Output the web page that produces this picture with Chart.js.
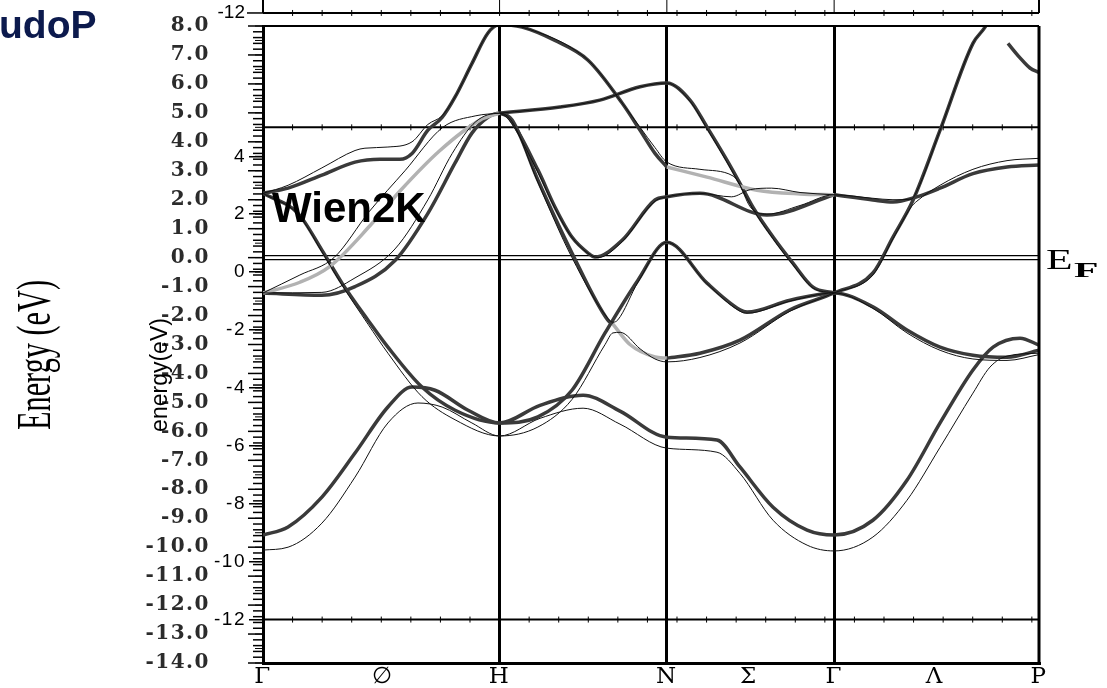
<!DOCTYPE html>
<html>
<head>
<meta charset="utf-8">
<script src="https://cdn.jsdelivr.net/npm/chart.js@4/dist/chart.umd.min.js"></script>
<style>
  html, body { margin: 0; padding: 0; background: #fff; }
</style>
</head>
<body>
<canvas id="bandChart" width="1107" height="688"></canvas>
<script>
// k path of the bcc zone, in units of 2pi/a
const kPoints = [0, 1, 1.7071, 2.4142, 3.2802];
const kTickPos = [0, 0.507, 1, 1.7071, 2.054, 2.4142, 2.84, 3.2802];
const kTickNames = ['Γ', '∅', 'H', 'N', 'Σ', 'Γ', 'Λ', 'P'];

// outer (thick) plot axis and the pasted inner (thin) plot axis
const outerRange = [-14, 8];
const innerRange = [-13.5, 8.5];     // inner energy = outer energy + 0.5
const innerTicks = [4, 2, 0, -2, -4, -6, -8, -10, -12];
const innerFrame = [5, -12];
const innerCopyLine = 8.95;          // bottom line of the next copy, labelled -12

// thick bands (outer plot), [k, E]
const thickLowBand = [[0,-9.58],[0.106,-9.3],[0.249,-8.27],[0.389,-6.75],[0.528,-5.16],[0.630,-4.47],[0.727,-4.58],[0.867,-5.27],[1,-5.71],[1.171,-5.1],[1.353,-4.75],[1.509,-5.3],[1.707,-6.2],[1.919,-6.3],[2.016,-7.23],[2.156,-8.62],[2.300,-9.41],[2.414,-9.58],[2.578,-9.07],[2.722,-7.69],[2.862,-5.71],[3.001,-3.88],[3.086,-3.09],[3.200,-2.78],[3.280,-3.02]];
const thickBandB = [[0,2.22],[0.148,1.53],[0.249,0.26],[0.334,-0.88],[0.444,-2.16],[0.528,-3.09],[0.672,-4.47],[0.812,-5.27],[1,-5.71],[1.162,-5.5],[1.306,-4.58],[1.446,-2.6],[1.585,-0.78],[1.707,0.53],[1.877,-0.88],[2.016,-1.8],[2.046,-1.88],[2.228,-1.47],[2.414,-1.22],[2.578,-1.7],[2.722,-2.5],[2.862,-3.09],[3.001,-3.37],[3.145,-3.44],[3.280,-3.2]];
const thickBandD = [[0,-1.22],[0.249,-1.3],[0.389,-1.0],[0.558,-0.1],[0.697,1.53],[0.812,3.27],[0.883,4.3],[0.951,4.85],[1,4.99],[1.053,4.75],[1.162,2.68],[1.306,0.16],[1.458,-2.16],[1.479,-2.3]];
const thickBandD2 = [[1.707,-3.47],[1.847,-3.3],[2.016,-2.85],[2.228,-1.8],[2.414,-1.22],[2.578,-0.53],[2.663,0.71],[2.748,1.99],[2.862,4.4],[3.001,7.4],[3.052,7.96],[3.08,8.4]];
const thickBandE = [[1,4.99],[1.255,5.2],[1.424,5.44],[1.594,5.9],[1.707,6.03],[1.805,5.44],[1.877,4.51],[1.961,3.37],[2.016,2.57],[2.071,1.74],[2.156,0.71],[2.240,-0.19],[2.325,-1.02],[2.414,-1.22]];
const thickBandA = [[0,2.22],[0.106,2.4],[0.249,2.85],[0.389,3.3],[0.495,3.4],[0.579,3.4],[0.630,3.6],[0.697,4.4],[0.757,4.84],[0.812,5.55],[0.883,6.7],[0.951,7.76],[1,8.05],[1.095,7.96],[1.234,7.5],[1.374,6.82],[1.518,5.34],[1.594,4.4],[1.657,3.6],[1.707,3.13]];
const thickBandA2 = [[2.414,2.17],[2.578,1.99],[2.663,1.92],[2.764,2.1],[2.862,2.4],[3.001,2.9],[3.145,3.13],[3.280,3.2]];
const thickBandF = [[1,4.99],[1.036,4.86],[1.162,3.03],[1.234,1.75],[1.306,0.71],[1.374,0.16],[1.403,0.02],[1.518,0.6],[1.657,1.99],[1.707,2.1],[1.847,2.22],[2.130,1.47],[2.414,2.17]];
const thickBandTop = [[3.149,7.4],[3.2,6.9],[3.242,6.55],[3.280,6.4]];

// light grey pieces of the outer plot
const grayBandC = [[0,-1.22],[0.156,-0.85],[0.283,-0.3],[0.452,1.1],[0.579,2.3],[0.748,3.7],[0.917,4.75],[1,4.99]];
const grayBandD = [[1.479,-2.3],[1.551,-3.0],[1.657,-3.43],[1.707,-3.47]];
const grayBandA = [[1.707,3.13],[1.877,2.78],[2.088,2.33],[2.270,2.2],[2.414,2.17]];

// thin bands (inner plot), same energy units
const thinLowBand = [[0,-10.1],[0.106,-10.0],[0.249,-9.17],[0.389,-7.58],[0.528,-5.71],[0.655,-5.02],[0.757,-5.16],[0.883,-5.71],[1,-6.16],[1.171,-5.55],[1.353,-5.2],[1.509,-5.75],[1.707,-6.58],[1.919,-6.72],[2.016,-7.45],[2.156,-9.07],[2.300,-9.93],[2.414,-10.13],[2.578,-9.65],[2.722,-8.38],[2.862,-6.55],[3.001,-4.68],[3.073,-3.78],[3.145,-3.4],[3.280,-3.3]];
const thinBandB = [[0,2.22],[0.148,1.5],[0.249,0.2],[0.334,-0.95],[0.444,-2.3],[0.528,-3.3],[0.672,-4.8],[0.812,-5.6],[1,-6.16],[1.162,-5.85],[1.306,-4.9],[1.446,-3.0],[1.479,-2.6],[1.51,-2.58],[1.594,-3.15],[1.657,-3.5],[1.707,-3.6],[1.847,-3.45],[2.016,-2.95],[2.228,-1.85],[2.414,-1.22],[2.578,-0.6],[2.663,0.65],[2.74,1.75],[2.764,1.95],[2.862,2.5],[3.001,3.05],[3.145,3.35],[3.280,3.43]];
const thinBandD = [[0,-1.22],[0.249,-1.2],[0.389,-0.7],[0.558,0.3],[0.697,2.0],[0.8,3.6],[0.9,4.7],[1,4.99],[1.053,4.7],[1.162,2.6],[1.306,0.0],[1.458,-2.1],[1.479,-2.23],[1.50,-2.15],[1.585,-0.85],[1.707,0.53],[1.877,-0.9],[2.016,-1.85],[2.046,-1.92],[2.228,-1.5],[2.414,-1.22],[2.578,-1.75],[2.722,-2.6],[2.862,-3.2],[3.001,-3.5],[3.145,-3.55],[3.280,-3.35]];
const thinBandC = [[0,-1.22],[0.156,-0.6],[0.3,0.0],[0.45,1.6],[0.6,3.0],[0.76,4.5],[0.9,4.9],[1,4.99],[1.255,5.2],[1.424,5.44],[1.594,5.9],[1.707,6.03],[1.805,5.4],[1.877,4.45],[1.961,3.3],[2.016,2.5],[2.071,1.68],[2.156,0.65],[2.240,-0.25],[2.325,-1.05],[2.414,-1.22]];
const thinBandA = [[0,2.22],[0.106,2.5],[0.249,3.1],[0.389,3.7],[0.431,3.78],[0.528,3.82],[0.630,4.0],[0.697,4.6],[0.757,4.9],[0.812,5.55],[0.883,6.7],[0.951,7.76],[1,8.05],[1.095,7.96],[1.374,6.82],[1.518,5.34],[1.594,4.5],[1.657,3.8],[1.707,3.3],[1.847,3.05],[1.987,2.82],[2.01,2.6],[2.06,1.75],[2.13,1.5],[2.27,1.8],[2.414,2.17],[2.578,2.05],[2.663,2.0],[2.74,2.02],[2.764,2.3],[2.862,4.4],[3.001,7.4],[3.052,7.96],[3.08,8.4]];
const thinBandF = [[1,4.99],[1.036,4.8],[1.162,2.95],[1.234,1.7],[1.306,0.7],[1.374,0.15],[1.416,0.0],[1.518,0.55],[1.657,1.95],[1.707,2.1],[1.847,2.22],[1.98,2.1],[2.06,2.35],[2.15,2.4],[2.27,2.25],[2.414,2.17]];

const thickBands = [thickLowBand, thickBandB, thickBandD, thickBandD2, thickBandE, thickBandA, thickBandA2, thickBandF, thickBandTop];
const grayBands = [grayBandC, grayBandD, grayBandA];
const thinBands = [thinLowBand, thinBandB, thinBandD, thinBandC, thinBandA, thinBandF];

function lineSet(pairs, color, width, order) {
  return {
    data: pairs.map(p => ({ x: p[0], y: p[1] })),
    xAxisID: 'x', yAxisID: 'y',
    borderColor: color,
    borderWidth: width,
    pointRadius: 0,
    fill: false,
    tension: 0.4,
    cubicInterpolationMode: 'monotone',
    order: order
  };
}

const datasets = [
  ...thinBands.map(b => lineSet(b, '#111', 1, 0)),
  ...grayBands.map(b => lineSet(b, '#b2b2b2', 3.5, 1)),
  ...thickBands.map(b => lineSet(b, '#3a3a3a', 3.5, 2))
];

function frameLine(ctx, x, area, py) {
  ctx.lineWidth = 2;
  ctx.beginPath(); ctx.moveTo(area.left, py); ctx.lineTo(area.right, py); ctx.stroke();
  ctx.lineWidth = 1;
  for (let k = 0.125; k < x.max; k += 0.125) {
    const px = x.getPixelForValue(k);
    ctx.beginPath(); ctx.moveTo(px, py - 3); ctx.lineTo(px, py + 3); ctx.stroke();
  }
}

const decor = {
  id: 'decor',
  beforeDraw(chart) {
    chart.ctx.letterSpacing = '1.5px';
  },
  beforeDatasetsDraw(chart) {
    const { ctx, chartArea: a, scales: { x, y, yi } } = chart;
    ctx.save();
    ctx.strokeStyle = '#000';
    // Fermi level, double line
    const y0 = y.getPixelForValue(0);
    ctx.lineWidth = 1.2;
    [-2, 2].forEach(d => {
      ctx.beginPath(); ctx.moveTo(a.left, y0 + d); ctx.lineTo(a.right, y0 + d); ctx.stroke();
    });
    // frame of the inner plot
    innerFrame.forEach(v => frameLine(ctx, x, a, yi.getPixelForValue(v)));
    ctx.restore();
  },
  afterDraw(chart) {
    const { ctx, chartArea: a, scales: { x, y, yi } } = chart;
    ctx.save();
    ctx.letterSpacing = '0px';
    ctx.strokeStyle = '#000';
    ctx.fillStyle = '#000';

    // top and right edges of the outer frame
    ctx.lineWidth = 2;
    ctx.beginPath(); ctx.moveTo(a.left, a.top); ctx.lineTo(a.right, a.top); ctx.stroke();
    ctx.lineWidth = 3;
    ctx.beginPath(); ctx.moveTo(a.right, a.top); ctx.lineTo(a.right, a.bottom); ctx.stroke();

    // dense tick combs: outer every 0.2, inner every 0.5
    ctx.lineWidth = 1.5;
    for (let i = 0; i <= 110; i++) {
      const py = y.getPixelForValue(outerRange[0] + i * 0.2);
      const len = i % 5 === 0 ? 15 : 10;
      ctx.beginPath(); ctx.moveTo(a.left - len, py); ctx.lineTo(a.left, py); ctx.stroke();
    }
    ctx.lineWidth = 1;
    for (let v = -13.5; v <= 8.5; v += 0.5) {
      const py = yi.getPixelForValue(v);
      ctx.beginPath(); ctx.moveTo(a.left - 8, py); ctx.lineTo(a.left, py); ctx.stroke();
    }

    // bottom of the next inner-plot copy, above the frame
    const pyTop = yi.getPixelForValue(innerCopyLine);
    frameLine(ctx, x, a, pyTop);
    kPoints.forEach((k, i) => {
      const px = x.getPixelForValue(k);
      ctx.lineWidth = (i === 0 || i === kPoints.length - 1) ? 2 : 1;
      ctx.beginPath(); ctx.moveTo(px, 0); ctx.lineTo(px, pyTop); ctx.stroke();
    });
    ctx.lineWidth = 1.5;
    ctx.beginPath(); ctx.moveTo(a.left - 16, pyTop); ctx.lineTo(a.left, pyTop); ctx.stroke();
    ctx.font = '19px "Liberation Sans", Arial, sans-serif';
    ctx.textAlign = 'right'; ctx.textBaseline = 'middle';
    ctx.fillText('-12', a.left - 18, pyTop);

    // texts
    ctx.textAlign = 'left'; ctx.textBaseline = 'alphabetic';
    ctx.fillStyle = '#0c1a4d';
    ctx.font = 'bold 39px "Liberation Sans", Arial, sans-serif';
    ctx.fillText('udoP', -1, 38);

    ctx.fillStyle = '#000';
    ctx.font = 'bold 42px "Liberation Sans", Arial, sans-serif';
    ctx.fillText('Wien2K', 272, 222);

    // E_F at the right of the Fermi line
    const y0 = y.getPixelForValue(0);
    ctx.save();
    ctx.translate(a.right + 7, y0 + 11); ctx.scale(1.45, 1);
    ctx.font = '30px "Liberation Serif", serif';
    ctx.fillText('E', 0, 0);
    ctx.restore();
    ctx.save();
    ctx.translate(a.right + 35, y0 + 19); ctx.scale(2.0, 1);
    ctx.font = 'bold 20px "Liberation Serif", serif';
    ctx.fillText('F', 0, 0);
    ctx.restore();

    // axis titles
    ctx.save();
    ctx.translate(50, 355); ctx.rotate(-Math.PI / 2);
    ctx.font = '48px "Liberation Serif", serif';
    const t1 = 'Energy (eV)';
    ctx.scale(150 / ctx.measureText(t1).width, 1);
    ctx.textAlign = 'center';
    ctx.fillText(t1, 0, 0);
    ctx.restore();

    ctx.save();
    ctx.translate(167, 375); ctx.rotate(-Math.PI / 2);
    ctx.font = '23px "Liberation Sans", Arial, sans-serif';
    ctx.textAlign = 'center';
    ctx.fillText('energy(eV)', 0, 0);
    ctx.restore();

    ctx.restore();
  }
};

const symmetryLines = kPoints.slice(1, -1);

new Chart(document.getElementById('bandChart'), {
  type: 'line',
  data: { datasets: datasets },
  options: {
    responsive: false,
    animation: false,
    events: [],
    layout: { padding: { left: 140, right: 68, top: 26, bottom: 0 } },
    plugins: { legend: { display: false }, tooltip: { enabled: false } },
    scales: {
      x: {
        type: 'linear',
        min: kPoints[0],
        max: kPoints[kPoints.length - 1],
        afterBuildTicks: s => { s.ticks = kTickPos.map(v => ({ value: v })); },
        afterFit: s => { s.height = 25; },
        ticks: {
          autoSkip: false,
          maxRotation: 0,
          padding: 0,
          color: '#000',
          font: { family: '"DejaVu Serif", serif', size: 23 },
          callback: (v, i) => kTickNames[i]
        },
        grid: {
          drawTicks: false,
          lineWidth: 3,
          color: c => (c.tick && symmetryLines.some(k => Math.abs(k - c.tick.value) < 1e-6)) ? '#000' : 'rgba(0,0,0,0)'
        },
        border: { display: true, color: '#000', width: 3 }
      },
      yi: {
        type: 'linear',
        position: 'left',
        weight: 0,
        min: innerRange[0],
        max: innerRange[1],
        afterBuildTicks: s => { s.ticks = innerTicks.map(v => ({ value: v })); },
        afterFit: s => { s.width = 53; },
        ticks: {
          padding: 3,
          color: '#000',
          font: { family: '"Liberation Sans", Arial, sans-serif', size: 19 },
          callback: v => String(v)
        },
        grid: { drawOnChartArea: false, drawTicks: true, tickLength: 14, color: '#000', lineWidth: 1.5 },
        border: { display: true, color: '#000', width: 3 }
      },
      y: {
        type: 'linear',
        position: 'left',
        weight: 1,
        min: outerRange[0],
        max: outerRange[1],
        afterFit: s => { s.width = 70; },
        ticks: {
          stepSize: 1,
          padding: 0,
          color: '#2b2b2b',
          font: { family: '"DejaVu Serif", serif', weight: 'bold', size: 20 },
          callback: v => v.toFixed(1)
        },
        grid: { display: false, drawTicks: false },
        border: { display: false }
      }
    }
  },
  plugins: [decor]
});
</script>
</body>
</html>
